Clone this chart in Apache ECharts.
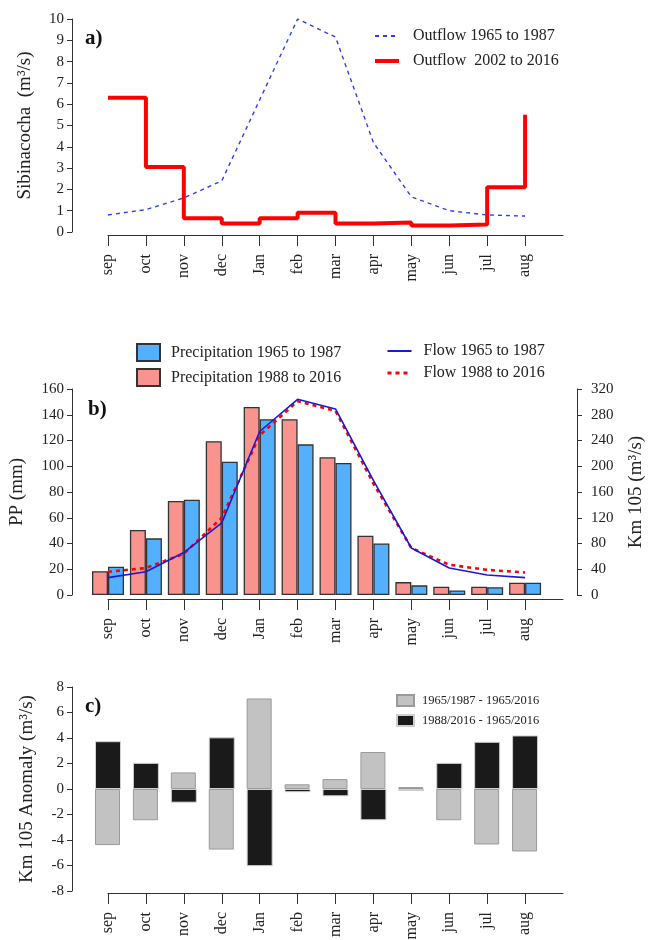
<!DOCTYPE html>
<html>
<head>
<meta charset="utf-8">
<script src="https://cdn.jsdelivr.net/npm/echarts@6/dist/echarts.min.js"></script>
<style>
  html, body { margin: 0; padding: 0; background: #fff; }
  #chart { width: 648px; height: 940px; }
</style>
</head>
<body>
<div id="chart"></div>
<script>
// months (last slot empty so the axis line runs past aug like the original)
const months = ['sep', 'oct', 'nov', 'dec', 'Jan', 'feb', 'mar', 'apr', 'may', 'jun', 'jul', 'aug', ''];

// a) Sibinacocha outflow (m3/s)
const outflow6587 = [0.8, 1.05, 1.6, 2.4, 6.2, 10.0, 9.15, 4.2, 1.65, 1.0, 0.8, 0.75];
const outflow0216 = [6.3, 3.05, 0.65, 0.4, 0.65, 0.9, 0.4, 0.45, 0.3, 0.35, 2.1, 5.5];

// b) precipitation (mm) and Km 105 flow (m3/s)
const precip6587 = [22, 44, 74, 103.5, 136.5, 117, 102.5, 40, 7.5, 3.5, 6, 9.5];
const precip8816 = [18.5, 50.5, 73, 119.5, 146, 136.5, 107, 46, 10, 6.5, 6.5, 9.5];
const flow6587 = [27, 36, 66, 112, 254, 304, 289, 178, 73, 42, 31, 27];
const flow8816 = [36, 42, 64, 120, 248, 301, 286, 173, 73, 47, 39, 35];

// c) Km 105 anomaly (m3/s)
const anom6587 = [-4.4, -2.45, 1.3, -4.75, 7.1, 0.37, 0.78, 2.9, 0.15, -2.45, -4.35, -4.9];
const anom8816 = [3.75, 2.05, -1.07, 4.05, -6.05, -0.25, -0.57, -2.45, -0.15, 2.05, 3.7, 4.2];

const serif = 'Liberation Serif, Times New Roman, serif';
const axisColor = '#333';

function xAxis(gridIndex, offset) {
  return {
    type: 'category',
    gridIndex: gridIndex,
    data: months,
    boundaryGap: false,
    offset: offset,
    axisLine: { show: true, onZero: false, lineStyle: { color: axisColor, width: 1 } },
    axisTick: { show: true, length: 11, interval: (i) => i < 12, lineStyle: { color: axisColor } },
    axisLabel: { rotate: 90, interval: 0, margin: 19, fontFamily: serif, fontSize: 16, color: '#222' },
    splitLine: { show: false }
  };
}

function yAxis(gridIndex, min, max, interval, name, nameGap, extra) {
  return Object.assign({
    type: 'value',
    gridIndex: gridIndex,
    min: min,
    max: max,
    interval: interval,
    position: 'left',
    offset: 36,
    name: name,
    nameLocation: 'middle',
    nameGap: nameGap,
    nameTextStyle: { fontFamily: serif, fontSize: 19, color: '#222' },
    axisLine: { show: true, onZero: false, lineStyle: { color: axisColor, width: 1 } },
    axisTick: { show: true, length: 5, lineStyle: { color: axisColor } },
    axisLabel: { margin: 8, fontFamily: serif, fontSize: 15, color: '#222' },
    splitLine: { show: false }
  }, extra || {});
}

// line entries in the legends: just the stroke, no marker
const noMarker = { opacity: 0 };

const chart = echarts.init(document.getElementById('chart'), null, { renderer: 'canvas' });

const option = {
  backgroundColor: '#fff',
  animation: false,
  title: [
    { text: 'a)', left: 80, top: 23, textStyle: { fontFamily: serif, fontWeight: 'bold', fontSize: 21, color: '#111' } },
    { text: 'b)', left: 83, top: 394, textStyle: { fontFamily: serif, fontWeight: 'bold', fontSize: 21, color: '#111' } },
    { text: 'c)', left: 80, top: 691, textStyle: { fontFamily: serif, fontWeight: 'bold', fontSize: 21, color: '#111' } }
  ],
  legend: [
    {
      data: [
        { name: 'Outflow 1965 to 1987', itemStyle: noMarker },
        { name: 'Outflow  2002 to 2016', itemStyle: noMarker, lineStyle: { width: 4 } }
      ],
      orient: 'vertical', left: 373, top: 28, padding: 0,
      itemWidth: 24, itemHeight: 14, itemGap: 9,
      textStyle: { fontFamily: serif, fontSize: 16, color: '#222', padding: [0, 0, 0, 9] }
    },
    {
      data: ['Precipitation 1965 to 1987', 'Precipitation 1988 to 2016'],
      orient: 'vertical', left: 136, top: 343, padding: 0, icon: 'rect',
      itemWidth: 23, itemHeight: 17, itemGap: 6,
      textStyle: { fontFamily: serif, fontSize: 16, color: '#222', padding: [0, 0, 0, 6] }
    },
    {
      data: [
        { name: 'Flow 1965 to 1987', itemStyle: noMarker },
        { name: 'Flow 1988 to 2016', itemStyle: noMarker, lineStyle: { width: 3 } }
      ],
      orient: 'vertical', left: 386, top: 343, padding: 0,
      itemWidth: 24, itemHeight: 17, itemGap: 6,
      textStyle: { fontFamily: serif, fontSize: 16, color: '#222', padding: [0, 0, 0, 7] }
    },
    {
      data: ['1965/1987 - 1965/2016', '1988/2016 - 1965/2016'],
      orient: 'vertical', left: 396, top: 694, padding: 0, icon: 'rect',
      itemWidth: 17, itemHeight: 11, itemGap: 7,
      textStyle: { fontFamily: serif, fontSize: 12.5, color: '#222', padding: [0, 0, 0, 3] }
    }
  ],
  grid: [
    { left: 108, right: 85, top: 19, height: 213, outerBoundsMode: 'none' },
    { left: 108, right: 85, top: 389, height: 206, outerBoundsMode: 'none' },
    { left: 108, right: 85, top: 687, height: 204, outerBoundsMode: 'none' }
  ],
  xAxis: [xAxis(0, 3), xAxis(1, 4), xAxis(2, 2)],
  yAxis: [
    yAxis(0, 0, 10, 1, 'Sibinacocha  (m³/s)', 37),
    yAxis(1, 0, 160, 20, 'PP (mm)', 45),
    yAxis(1, 0, 320, 40, 'Km 105 (m³/s)', 50, {
      position: 'right', offset: 14,
      axisLabel: { margin: 14, fontFamily: serif, fontSize: 15, color: '#222' }
    }),
    yAxis(2, -8, 8, 2, 'Km 105 Anomaly (m³/s)', 35)
  ],
  series: [
    {
      name: 'Outflow 1965 to 1987', type: 'line', xAxisIndex: 0, yAxisIndex: 0,
      data: outflow6587, symbol: 'none',
      lineStyle: { color: '#2f3ff0', width: 1.4, type: [4, 4] },
      itemStyle: { color: '#2f3ff0' }
    },
    {
      name: 'Outflow  2002 to 2016', type: 'line', xAxisIndex: 0, yAxisIndex: 0,
      data: outflow0216, symbol: 'none', step: 'end',
      lineStyle: { color: '#ff0000', width: 4 },
      itemStyle: { color: '#ff0000' }
    },
    {
      name: 'Precipitation 1988 to 2016', type: 'bar', xAxisIndex: 1, yAxisIndex: 1,
      data: precip8816, barWidth: 16, barGap: '0%', clip: false,
      itemStyle: { color: '#f8938e', borderColor: '#333', borderWidth: 1.3 }
    },
    {
      name: 'Precipitation 1965 to 1987', type: 'bar', xAxisIndex: 1, yAxisIndex: 1,
      data: precip6587, barWidth: 16, barGap: '0%', clip: false,
      itemStyle: { color: '#52b0ff', borderColor: '#333', borderWidth: 1.3 }
    },
    {
      name: 'Flow 1988 to 2016', type: 'line', xAxisIndex: 1, yAxisIndex: 2,
      data: flow8816, symbol: 'none', z: 5,
      lineStyle: { color: '#ff0000', width: 2.6, type: [4, 4] },
      itemStyle: { color: '#ff0000' }
    },
    {
      name: 'Flow 1965 to 1987', type: 'line', xAxisIndex: 1, yAxisIndex: 2,
      data: flow6587, symbol: 'none', z: 6,
      lineStyle: { color: '#1a1ad6', width: 1.6 },
      itemStyle: { color: '#1a1ad6' }
    },
    {
      name: '1965/1987 - 1965/2016', type: 'bar', xAxisIndex: 2, yAxisIndex: 3,
      data: anom6587, barWidth: 25, barGap: '-100%', clip: false,
      itemStyle: { color: '#c2c2c2', borderColor: '#9a9a9a', borderWidth: 1 }
    },
    {
      name: '1988/2016 - 1965/2016', type: 'bar', xAxisIndex: 2, yAxisIndex: 3,
      data: anom8816, barWidth: 26, barGap: '-100%', clip: false,
      itemStyle: { color: '#1a1a1a', borderColor: '#d0d0d0', borderWidth: 1 }
    }
  ]
};

chart.setOption(option);
</script>
</body>
</html>
